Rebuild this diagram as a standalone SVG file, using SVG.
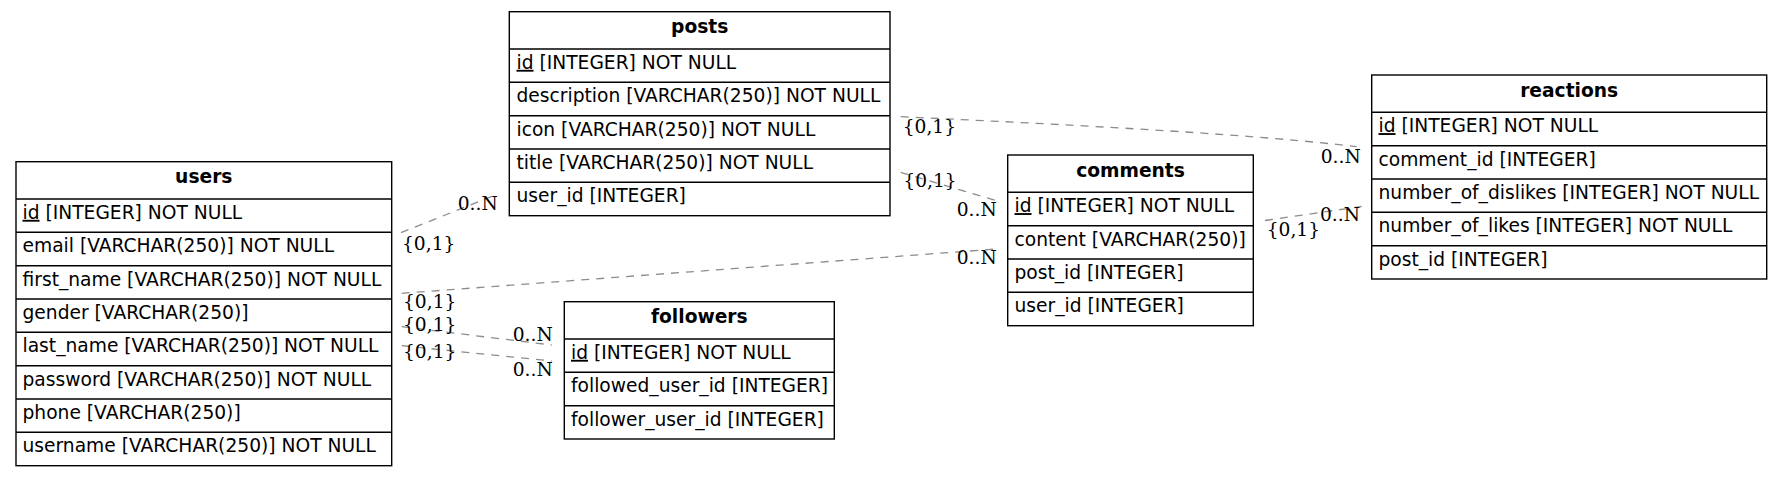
<svg xmlns="http://www.w3.org/2000/svg" width="1783" height="477" viewBox="0 0 1783 477">
<style>
.box{fill:#fff;stroke:#000;stroke-width:1.4}
.sep{stroke:#000;stroke-width:1.4}
.t{font-family:"DejaVu Sans",sans-serif;font-size:18.67px;fill:#000}
.h{font-family:"DejaVu Sans",sans-serif;font-size:18.67px;font-weight:bold;fill:#000;text-anchor:middle}
.u{text-decoration:underline}
.e{fill:none;stroke:#8c8c8c;stroke-width:1.3;stroke-dasharray:8,7}
.l{font-family:"DejaVu Serif",serif;font-size:18.67px;fill:#000}
</style>
<rect width="1783" height="477" fill="#fff"/>
<g id="connectors">
<path class="e" d="M401,232.7 L497.7,194"/>
<path class="e" d="M900.7,116.7 C1100,126 1260,135 1356.7,146.7"/>
<path class="e" d="M900.7,172.3 L996.7,200.7"/>
<path class="e" d="M401.7,293.3 L996.7,249"/>
<path class="e" d="M401.7,326.7 L551.7,345"/>
<path class="e" d="M401.7,345.7 L551.7,361"/>
<path class="e" d="M1265,220.5 L1361.5,206.5"/>
<text class="l" x="402" y="250">{0,1}</text>
<text class="l" x="457.7" y="209.5">0..N</text>
<text class="l" x="902.7" y="133">{0,1}</text>
<text class="l" x="1320.7" y="163">0..N</text>
<text class="l" x="903.3" y="187">{0,1}</text>
<text class="l" x="956.7" y="215.5">0..N</text>
<text class="l" x="403" y="308">{0,1}</text>
<text class="l" x="956.7" y="264">0..N</text>
<text class="l" x="403" y="331">{0,1}</text>
<text class="l" x="512.7" y="340.5">0..N</text>
<text class="l" x="403" y="358">{0,1}</text>
<text class="l" x="512.7" y="376">0..N</text>
<text class="l" x="1266.7" y="235.5">{0,1}</text>
<text class="l" x="1320" y="221">0..N</text>
</g>
<g id="users">
<rect class="box" x="16" y="161.7" width="375.7" height="304"/>
<line class="sep" x1="16" y1="199" x2="391.7" y2="199"/>
<line class="sep" x1="16" y1="232.3" x2="391.7" y2="232.3"/>
<line class="sep" x1="16" y1="265.7" x2="391.7" y2="265.7"/>
<line class="sep" x1="16" y1="299" x2="391.7" y2="299"/>
<line class="sep" x1="16" y1="332.3" x2="391.7" y2="332.3"/>
<line class="sep" x1="16" y1="365.7" x2="391.7" y2="365.7"/>
<line class="sep" x1="16" y1="399" x2="391.7" y2="399"/>
<line class="sep" x1="16" y1="432.3" x2="391.7" y2="432.3"/>
<text class="h" x="203.8" y="183.4">users</text>
<text class="t" x="22.5" y="218.8"><tspan class="u">id</tspan> [INTEGER] NOT NULL</text>
<text class="t" x="22.5" y="252.1">email [VARCHAR(250)] NOT NULL</text>
<text class="t" x="22.5" y="285.5">first_name [VARCHAR(250)] NOT NULL</text>
<text class="t" x="22.5" y="318.8">gender [VARCHAR(250)]</text>
<text class="t" x="22.5" y="352.1">last_name [VARCHAR(250)] NOT NULL</text>
<text class="t" x="22.5" y="385.5">password [VARCHAR(250)] NOT NULL</text>
<text class="t" x="22.5" y="418.8">phone [VARCHAR(250)]</text>
<text class="t" x="22.5" y="452.1">username [VARCHAR(250)] NOT NULL</text>
</g>
<g id="posts">
<rect class="box" x="509.3" y="11.7" width="380.7" height="204"/>
<line class="sep" x1="509.3" y1="49" x2="890" y2="49"/>
<line class="sep" x1="509.3" y1="82.3" x2="890" y2="82.3"/>
<line class="sep" x1="509.3" y1="115.7" x2="890" y2="115.7"/>
<line class="sep" x1="509.3" y1="149" x2="890" y2="149"/>
<line class="sep" x1="509.3" y1="182.3" x2="890" y2="182.3"/>
<text class="h" x="699.7" y="33.4">posts</text>
<text class="t" x="516.5" y="68.8"><tspan class="u">id</tspan> [INTEGER] NOT NULL</text>
<text class="t" x="516.5" y="102.1">description [VARCHAR(250)] NOT NULL</text>
<text class="t" x="516.5" y="135.5">icon [VARCHAR(250)] NOT NULL</text>
<text class="t" x="516.5" y="168.8">title [VARCHAR(250)] NOT NULL</text>
<text class="t" x="516.5" y="202.1">user_id [INTEGER]</text>
</g>
<g id="comments">
<rect class="box" x="1007.7" y="155" width="245.6" height="170.7"/>
<line class="sep" x1="1007.7" y1="192.3" x2="1253.3" y2="192.3"/>
<line class="sep" x1="1007.7" y1="225.7" x2="1253.3" y2="225.7"/>
<line class="sep" x1="1007.7" y1="259" x2="1253.3" y2="259"/>
<line class="sep" x1="1007.7" y1="292.3" x2="1253.3" y2="292.3"/>
<text class="h" x="1130.5" y="176.7">comments</text>
<text class="t" x="1014.5" y="212.1"><tspan class="u">id</tspan> [INTEGER] NOT NULL</text>
<text class="t" x="1014.5" y="245.5">content [VARCHAR(250)]</text>
<text class="t" x="1014.5" y="278.8">post_id [INTEGER]</text>
<text class="t" x="1014.5" y="312.1">user_id [INTEGER]</text>
</g>
<g id="reactions">
<rect class="box" x="1371.7" y="75" width="395" height="204"/>
<line class="sep" x1="1371.7" y1="112.3" x2="1766.7" y2="112.3"/>
<line class="sep" x1="1371.7" y1="145.7" x2="1766.7" y2="145.7"/>
<line class="sep" x1="1371.7" y1="179" x2="1766.7" y2="179"/>
<line class="sep" x1="1371.7" y1="212.3" x2="1766.7" y2="212.3"/>
<line class="sep" x1="1371.7" y1="245.7" x2="1766.7" y2="245.7"/>
<text class="h" x="1569.2" y="96.7">reactions</text>
<text class="t" x="1378.5" y="132.1"><tspan class="u">id</tspan> [INTEGER] NOT NULL</text>
<text class="t" x="1378.5" y="165.5">comment_id [INTEGER]</text>
<text class="t" x="1378.5" y="198.8">number_of_dislikes [INTEGER] NOT NULL</text>
<text class="t" x="1378.5" y="232.1">number_of_likes [INTEGER] NOT NULL</text>
<text class="t" x="1378.5" y="265.5">post_id [INTEGER]</text>
</g>
<g id="followers">
<rect class="box" x="564.3" y="301.7" width="270" height="137.3"/>
<line class="sep" x1="564.3" y1="339" x2="834.3" y2="339"/>
<line class="sep" x1="564.3" y1="372.3" x2="834.3" y2="372.3"/>
<line class="sep" x1="564.3" y1="405.7" x2="834.3" y2="405.7"/>
<text class="h" x="699.3" y="323.4">followers</text>
<text class="t" x="571" y="358.8"><tspan class="u">id</tspan> [INTEGER] NOT NULL</text>
<text class="t" x="571" y="392.1">followed_user_id [INTEGER]</text>
<text class="t" x="571" y="425.5">follower_user_id [INTEGER]</text>
</g>
</svg>
